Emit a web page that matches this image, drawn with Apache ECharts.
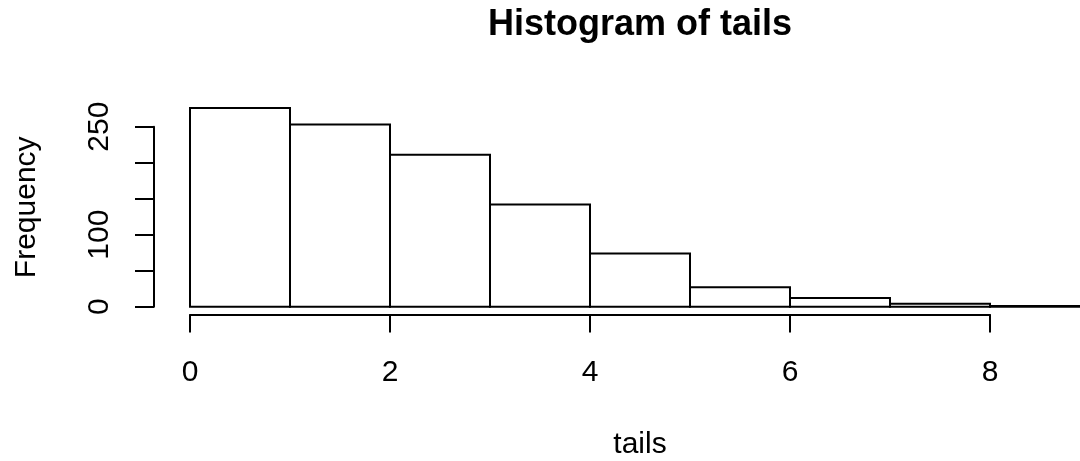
<!DOCTYPE html>
<html><head><meta charset="utf-8">
<script src="https://cdn.jsdelivr.net/npm/echarts@6/dist/echarts.min.js"></script>
<style>html,body{margin:0;padding:0;background:#fff}#c{width:1080px;height:461px}</style>
</head><body><div id="c"></div>
<script>
// ---- data ----
const binStarts = [0, 1, 2, 3, 4, 5, 6, 7, 8];
const binWidth = 1;
const counts = [276, 253, 211, 142, 74, 27, 12, 4, 1];
const xTicks = [0, 2, 4, 6, 8];
const xTickLabels = ['0', '2', '4', '6', '8'];
const yTicks = [0, 50, 100, 150, 200, 250];
const yTickLabels = ['0', '', '100', '', '', '250'];
const titleText = 'Histogram of tails';
const xLabel = 'tails';
const yLabel = 'Frequency';

// ---- layout ----
const W = 1080;
const font = '"Liberation Sans", Arial, Helvetica, sans-serif';
const region = { left: 154, top: 100, width: 972, height: 214.6 }; // full plot region (extends past the right edge)
const xLo = binStarts[0], xHi = binStarts[binStarts.length - 1] + binWidth;
const yHi = Math.max(...counts);
const padX = (xHi - xLo) * 0.04, padY = yHi * 0.04;
const xMin = xLo - padX, xMaxFull = xHi + padX, yMin = -padY, yMax = yHi + padY;
// visible part of the plot region inside the canvas
const visW = Math.min(region.width, W - region.left);
const xMax = xMin + (xMaxFull - xMin) * visW / region.width;
const px = v => region.left + (v - xMin) / (xMaxFull - xMin) * region.width;
const py = v => region.top + region.height - (v - yMin) / (yMax - yMin) * region.height;
const bottomPx = region.top + region.height;

const xGrid = { left: px(xTicks[0]), width: px(xTicks[xTicks.length - 1]) - px(xTicks[0]), top: bottomPx - 1, height: 1 };
const yGrid = { left: region.left, width: 1, top: py(yTicks[yTicks.length - 1]), height: py(yTicks[0]) - py(yTicks[yTicks.length - 1]) };

const lw = 2;
const hiddenAxis = (gi) => ({ gridIndex: gi, type: 'value', min: 0, max: 1, show: false });
const chart = echarts.init(document.getElementById('c'), null, { renderer: 'canvas' });
chart.setOption({
  animation: false,
  backgroundColor: '#fff',
  textStyle: { fontFamily: font },
  graphic: [{
    type: 'text', x: region.left + region.width / 2, y: 25,
    style: { text: titleText, font: 'bold 36px ' + font, fill: '#000', textAlign: 'center', textVerticalAlign: 'middle' }
  }, {
    type: 'text', x: region.left + region.width / 2, y: 444.5,
    style: { text: xLabel, font: '30px ' + font, fill: '#000', textAlign: 'center', textVerticalAlign: 'middle' }
  }],
  grid: [
    { left: region.left, top: region.top, width: visW, height: region.height, containLabel: false },
    Object.assign({ containLabel: false }, xGrid),
    Object.assign({ containLabel: false }, yGrid)
  ],
  xAxis: [
    { gridIndex: 0, type: 'value', min: xMin, max: xMax,
      axisLine: { show: false }, axisTick: { show: false }, axisLabel: { show: false }, splitLine: { show: false } },
    { gridIndex: 1, type: 'value', min: xTicks[0], max: xTicks[xTicks.length - 1], interval: xTicks[1] - xTicks[0],
      position: 'bottom',
      axisLine: { show: true, lineStyle: { color: '#000', width: lw } },
      axisTick: { show: true, length: 18, lineStyle: { color: '#000', width: lw } },
      axisLabel: { show: true, margin: 43, fontSize: 30, color: '#000', fontFamily: font, lineHeight: 30,
        formatter: v => xTickLabels[xTicks.indexOf(v)] ?? '' },
      splitLine: { show: false } },
    hiddenAxis(2)
  ],
  yAxis: [
    { gridIndex: 0, type: 'value', min: yMin, max: yMax,
      axisLine: { show: false }, axisTick: { show: false }, axisLabel: { show: false }, splitLine: { show: false },
      name: yLabel, nameLocation: 'middle', nameGap: 112,
      nameTextStyle: { fontSize: 30, color: '#000', fontFamily: font, lineHeight: 30 } },
    hiddenAxis(1),
    { gridIndex: 2, type: 'value', min: yTicks[0], max: yTicks[yTicks.length - 1], interval: yTicks[1] - yTicks[0],
      position: 'left',
      axisLine: { show: true, lineStyle: { color: '#000', width: lw } },
      axisTick: { show: true, length: 19, lineStyle: { color: '#000', width: lw } },
      axisLabel: { show: true, margin: 39, rotate: 90, fontSize: 30, color: '#000', fontFamily: font, lineHeight: 30,
        formatter: v => yTickLabels[yTicks.indexOf(v)] ?? '' },
      splitLine: { show: false } }
  ],
  series: [{
    type: 'custom',
    xAxisIndex: 0, yAxisIndex: 0,
    clip: false,
    encode: { x: [0, 1], y: 2 },
    data: binStarts.map((s, i) => [s, s + binWidth, counts[i]]),
    renderItem: function (params, api) {
      const p0 = api.coord([api.value(0), api.value(2)]);
      const p1 = api.coord([api.value(1), 0]);
      return { type: 'rect',
        shape: { x: p0[0], y: p0[1], width: p1[0] - p0[0], height: p1[1] - p0[1] },
        style: { fill: '#fff', stroke: '#000', lineWidth: lw } };
    }
  }]
});
</script></body></html>
